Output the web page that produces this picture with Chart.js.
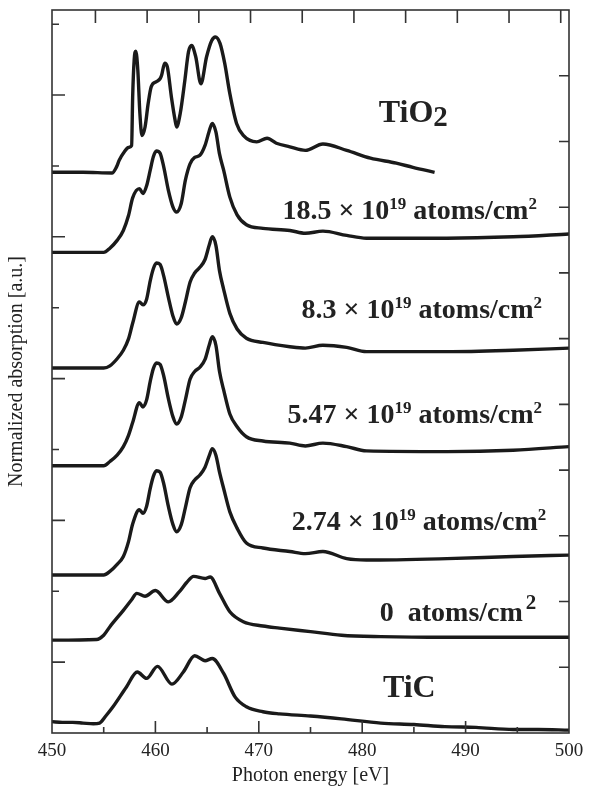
<!DOCTYPE html>
<html>
<head>
<meta charset="utf-8">
<script src="https://cdn.jsdelivr.net/npm/chart.js@4.4.0/dist/chart.umd.min.js"></script>
<style>
  html, body { margin: 0; padding: 0; background: #fff; }
</style>
</head>
<body>
<canvas id="xas" width="595" height="788"></canvas>
<script>
// Ti L-edge spectra, stacked with offsets as in the figure (y in arbitrary units)
var xTicks = [450, 460, 470, 480, 490, 500];

var tio2E = [450, 453, 455.8, 456.25, 456.5, 457.0, 457.4, 457.7, 457.8, 457.95, 458.1, 458.3, 458.5, 458.7, 459.0, 459.3, 459.6, 460.1, 460.45, 460.6, 460.9, 461.15, 461.55, 461.9, 462.05, 462.4, 462.85, 463.2, 463.5, 463.9, 464.4, 464.95, 465.45, 465.8, 466.25, 466.7, 467.2, 467.85, 468.5, 469.8, 470.8, 471.7, 473.0, 474.5, 476.2, 478.5, 480.8, 483.3, 484.9, 487.0];
var tio2Y = [7.91, 7.91, 7.90, 7.99, 8.08, 8.20, 8.26, 8.29, 8.97, 9.5, 9.62, 9.35, 8.74, 8.43, 8.55, 8.88, 9.12, 9.19, 9.23, 9.28, 9.45, 9.40, 8.97, 8.65, 8.55, 8.74, 9.21, 9.61, 9.70, 9.54, 9.16, 9.54, 9.77, 9.82, 9.73, 9.45, 9.02, 8.60, 8.43, 8.34, 8.39, 8.32, 8.27, 8.22, 8.31, 8.22, 8.11, 8.04, 7.98, 7.91];

// energy grid shared by the four implanted samples
var doseE = [450, 455.0, 455.6, 456.3, 456.9, 457.4, 457.8, 458.45, 458.8, 459.15, 459.5, 459.8, 460.1, 460.45, 460.8, 461.25, 461.7, 462.05, 462.5, 462.9, 463.35, 463.8, 464.3, 464.8, 465.2, 465.5, 465.85, 466.2, 466.6, 467.2, 467.9, 468.8, 470.4, 473.0, 474.5, 476.2, 478.5, 480.4, 488.2, 494.6, 500];
var d185Y = [6.78, 6.78, 6.84, 6.95, 7.09, 7.30, 7.55, 7.68, 7.61, 7.72, 7.94, 8.13, 8.21, 8.18, 7.99, 7.66, 7.42, 7.35, 7.47, 7.80, 8.03, 8.12, 8.15, 8.29, 8.49, 8.60, 8.48, 8.17, 7.94, 7.56, 7.31, 7.17, 7.12, 7.09, 7.05, 7.08, 7.02, 6.98, 6.98, 7.00, 7.04];
var d83Y = [5.15, 5.15, 5.18, 5.28, 5.40, 5.56, 5.78, 6.08, 6.04, 6.12, 6.38, 6.55, 6.63, 6.61, 6.45, 6.15, 5.88, 5.77, 5.86, 6.08, 6.36, 6.49, 6.57, 6.68, 6.88, 7.00, 6.88, 6.52, 6.26, 5.92, 5.70, 5.57, 5.51, 5.45, 5.43, 5.47, 5.44, 5.38, 5.38, 5.40, 5.43];
var d547Y = [3.77, 3.77, 3.83, 3.92, 4.04, 4.20, 4.38, 4.66, 4.60, 4.70, 4.96, 5.14, 5.22, 5.20, 5.04, 4.72, 4.46, 4.36, 4.46, 4.70, 4.99, 5.10, 5.16, 5.27, 5.47, 5.59, 5.47, 5.10, 4.84, 4.50, 4.32, 4.18, 4.12, 4.09, 4.05, 4.09, 4.04, 3.98, 3.97, 3.99, 4.04];
var d274Y = [2.23, 2.23, 2.28, 2.38, 2.49, 2.70, 2.95, 3.15, 3.10, 3.20, 3.45, 3.62, 3.70, 3.68, 3.52, 3.20, 2.94, 2.84, 2.94, 3.18, 3.46, 3.57, 3.64, 3.75, 3.91, 4.01, 3.92, 3.68, 3.45, 3.12, 2.89, 2.68, 2.61, 2.56, 2.53, 2.56, 2.46, 2.44, 2.46, 2.49, 2.51];

var zeroE = [450, 454.3, 455.0, 455.6, 456.9, 457.7, 458.2, 459.0, 460.0, 461.25, 462.3, 463.0, 463.7, 464.8, 465.3, 466.2, 467.2, 468.5, 470.4, 472, 475, 478, 481.8, 488, 500];
var zeroY = [1.31, 1.32, 1.38, 1.50, 1.73, 1.88, 1.97, 1.93, 2.01, 1.85, 1.99, 2.12, 2.21, 2.18, 2.20, 1.97, 1.71, 1.57, 1.51, 1.48, 1.43, 1.38, 1.36, 1.35, 1.35];

var ticE = [450, 451, 452, 453, 454, 454.6, 455.2, 455.9, 457.2, 458.25, 459.15, 460.2, 461.6, 462.7, 463.8, 464.8, 465.5, 466.6, 467.7, 468.8, 470.4, 472, 475, 478, 481.8, 485, 488, 491, 494.6, 497, 500];
var ticY = [0.16, 0.15, 0.15, 0.14, 0.13, 0.14, 0.24, 0.37, 0.65, 0.86, 0.77, 0.94, 0.69, 0.86, 1.09, 1.02, 1.05, 0.84, 0.51, 0.37, 0.30, 0.27, 0.24, 0.20, 0.14, 0.12, 0.09, 0.08, 0.05, 0.05, 0.04];

var doses = ['18.5', '8.3', '5.47', '2.74'];

function pts(xs, ys) {
  return xs.map(function (x, i) { return { x: x, y: ys[i] }; });
}

function line(label, data) {
  return {
    label: label,
    data: data,
    borderColor: '#1a1a1a',
    borderWidth: 3.4,
    pointRadius: 0,
    fill: false,
    cubicInterpolationMode: 'monotone'
  };
}

var serif = '"Liberation Serif", "Times New Roman", serif';

function rich(ctx, parts, x, y, align) {
  var w = 0;
  parts.forEach(function (p) {
    ctx.font = 'bold ' + p.size + 'px ' + serif;
    p.w = ctx.measureText(p.t).width + (p.gap || 0);
    w += p.w;
  });
  var cx = align === 'right' ? x - w : x;
  parts.forEach(function (p) {
    ctx.font = 'bold ' + p.size + 'px ' + serif;
    ctx.fillText(p.t, cx + (p.gap || 0), y - (p.up || 0));
    cx += p.w;
  });
}

function doseParts(d) {
  return [
    { t: d + ' \u00d7 10', size: 28 },
    { t: '19', size: 17, up: 10 },
    { t: ' atoms/cm', size: 28 },
    { t: '2', size: 17, up: 10 }
  ];
}

var frame = {
  id: 'frame',
  afterDraw: function (chart) {
    var ctx = chart.ctx, a = chart.chartArea;
    var sx = chart.scales.x, sx2 = chart.scales.x2, sy = chart.scales.y, sy2 = chart.scales.y2;
    ctx.save();
    ctx.strokeStyle = '#333';
    ctx.lineWidth = 1.6;
    ctx.strokeRect(a.left, a.top, a.right - a.left, a.bottom - a.top);
    ctx.beginPath();
    var v, p;
    for (v = 455; v < 500; v += 5) {
      p = sx.getPixelForValue(v);
      ctx.moveTo(p, a.bottom); ctx.lineTo(p, a.bottom - (v % 10 === 0 ? 12 : 6));
    }
    // the top axis of the original is shifted slightly against the bottom one
    for (v = 455; v <= 500; v += 5) {
      p = sx2.getPixelForValue(v);
      ctx.moveTo(p, a.top); ctx.lineTo(p, a.top + 13);
    }
    for (v = 1; v <= 10; v++) {
      p = sy.getPixelForValue(v);
      ctx.moveTo(a.left, p); ctx.lineTo(a.left + (v % 2 ? 13 : 7), p);
      p = sy2.getPixelForValue(v);
      ctx.moveTo(a.right, p); ctx.lineTo(a.right - 10, p);
    }
    ctx.stroke();

    ctx.fillStyle = '#222';
    ctx.textBaseline = 'alphabetic';
    var X = function (e) { return sx.getPixelForValue(e); };
    var Y = function (u) { return sy.getPixelForValue(u); };
    rich(ctx, [{ t: 'TiO', size: 32 }, { t: '2', size: 29, up: -4 }], X(481.6), Y(8.62), 'left');
    rich(ctx, doseParts(doses[0]), X(496.9), Y(7.25), 'right');
    rich(ctx, doseParts(doses[1]), X(497.4), Y(5.85), 'right');
    rich(ctx, doseParts(doses[2]), X(497.4), Y(4.38), 'right');
    rich(ctx, doseParts(doses[3]), X(497.8), Y(2.86), 'right');
    rich(ctx, [{ t: '0  atoms/cm', size: 28 }, { t: '2', size: 21, up: 12, gap: 3 }], X(481.7), Y(1.58), 'left');
    rich(ctx, [{ t: 'TiC', size: 32 }], X(482.0), Y(0.51), 'left');
    ctx.restore();
  }
};

new Chart(document.getElementById('xas'), {
  type: 'line',
  data: {
    datasets: [
      line('TiO2', pts(tio2E, tio2Y)),
      line('18.5', pts(doseE, d185Y)),
      line('8.3', pts(doseE, d83Y)),
      line('5.47', pts(doseE, d547Y)),
      line('2.74', pts(doseE, d274Y)),
      line('0', pts(zeroE, zeroY)),
      line('TiC', pts(ticE, ticY))
    ]
  },
  options: {
    responsive: false,
    animation: false,
    layout: { padding: { top: 10, left: 0, right: 0, bottom: 0 } },
    plugins: { legend: { display: false }, tooltip: { enabled: false } },
    scales: {
      x: {
        type: 'linear',
        min: 450,
        max: 500,
        afterBuildTicks: function (s) { s.ticks = xTicks.map(function (v) { return { value: v }; }); },
        afterFit: function (s) { s.height = 55; },
        grid: { display: false, drawTicks: false },
        border: { display: false },
        ticks: { padding: 7, color: '#222', font: { family: serif, size: 19 } },
        title: { display: true, text: 'Photon energy [eV]', color: '#222', padding: 0, font: { family: serif, size: 20 } }
      },
      x2: {
        type: 'linear',
        position: 'top',
        display: false,
        min: 450.8,
        max: 500.8
      },
      y: {
        position: 'left',
        min: 0,
        max: 10.2,
        afterFit: function (s) { s.width = 52; },
        grid: { display: false, drawTicks: false },
        border: { display: false },
        ticks: { display: false },
        title: { display: true, text: 'Normalized absorption [a.u.]', color: '#222', padding: { top: 5, bottom: 0 }, font: { family: serif, size: 20 } }
      },
      y2: {
        position: 'right',
        min: 0,
        max: 11,
        afterFit: function (s) { s.width = 26; },
        grid: { display: false, drawTicks: false },
        border: { display: false },
        ticks: { display: false }
      }
    }
  },
  plugins: [frame]
});
</script>
</body>
</html>
